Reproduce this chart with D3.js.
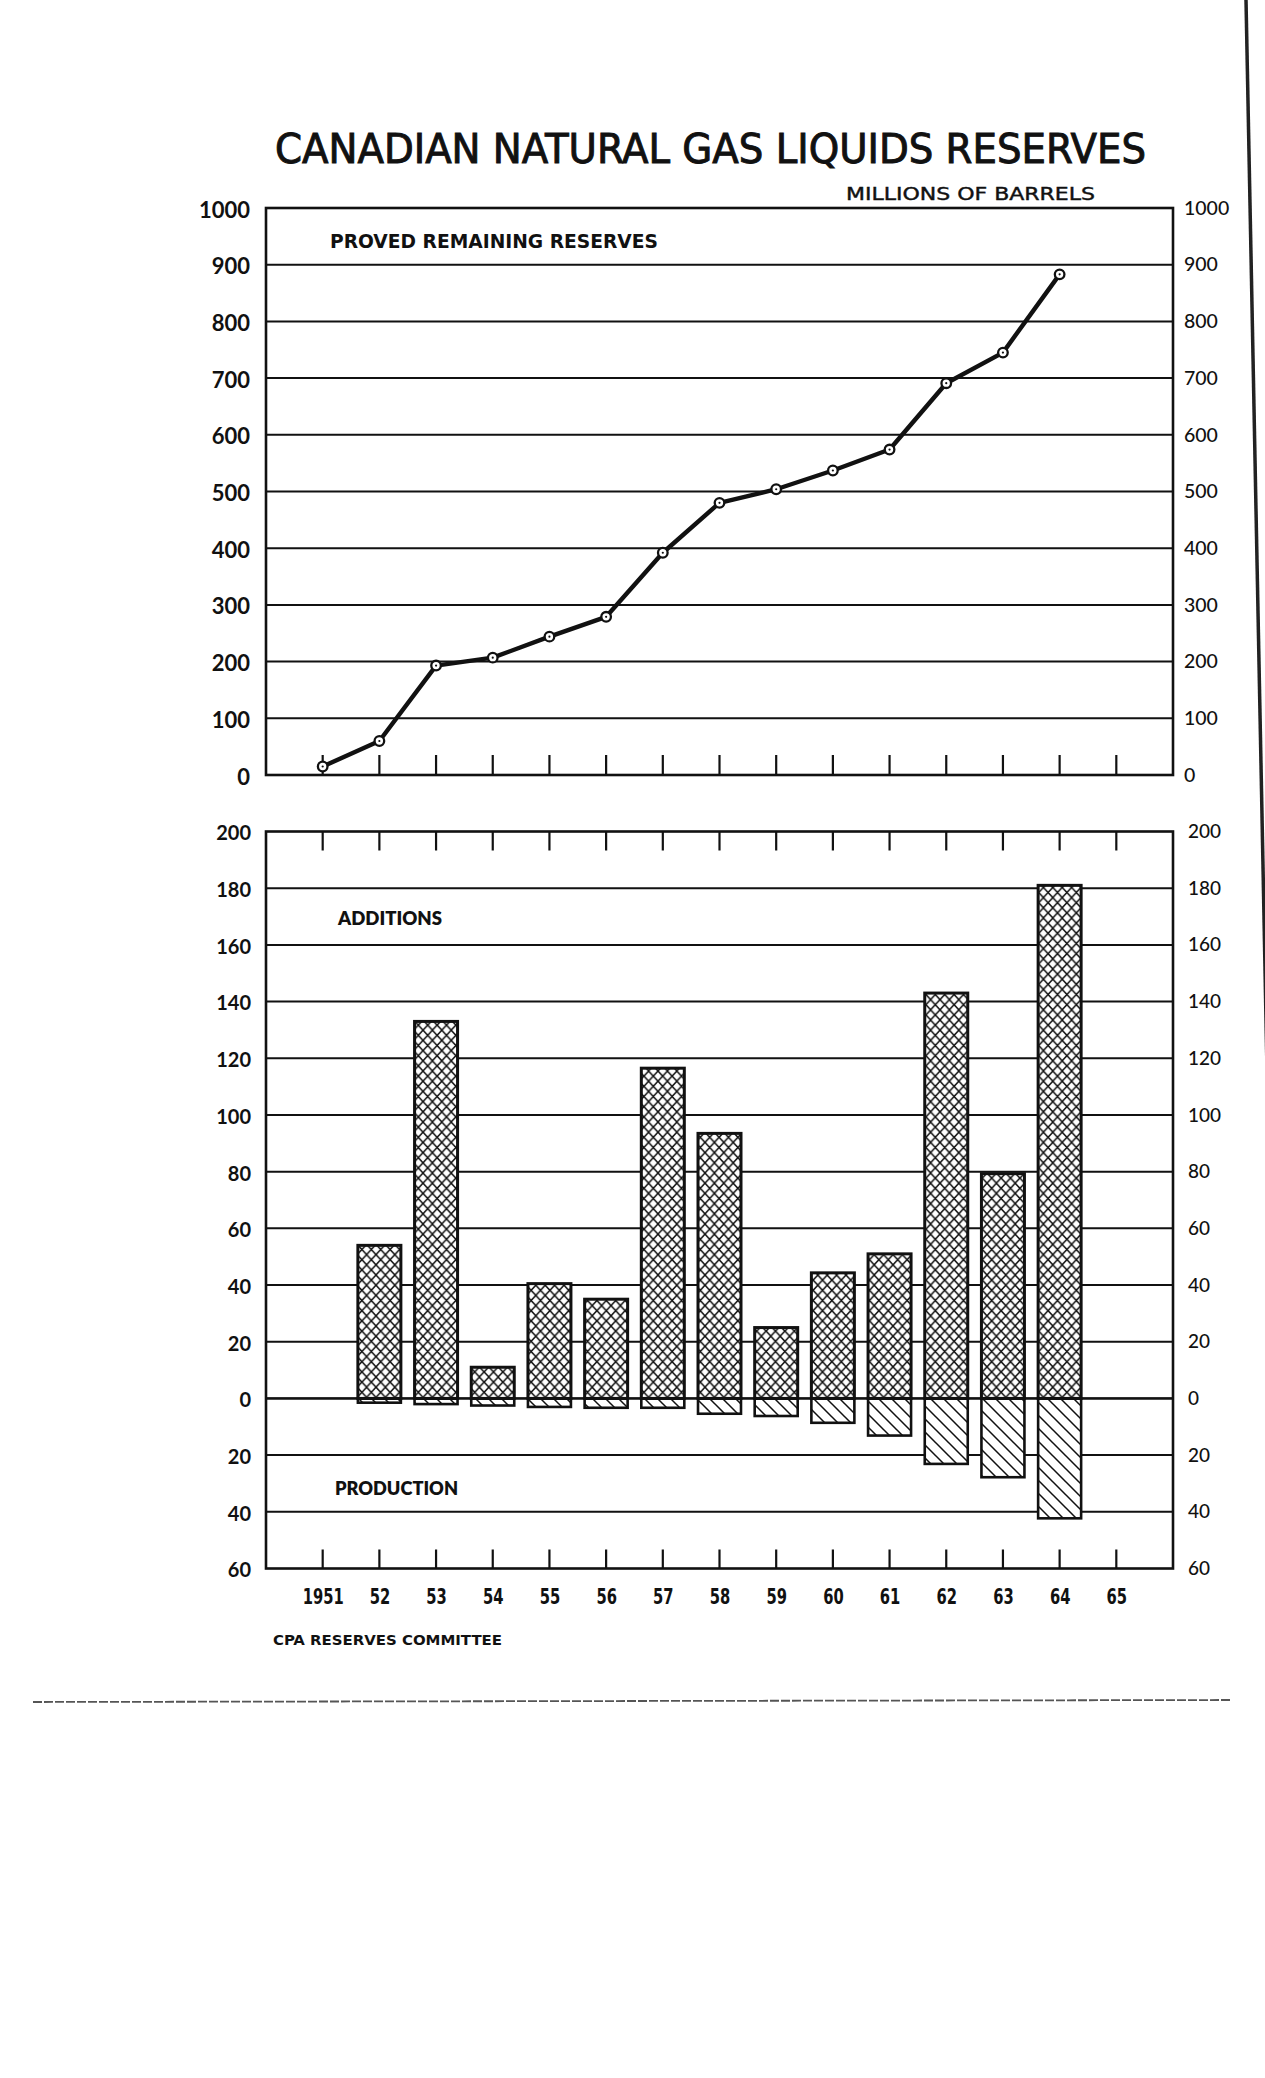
<!DOCTYPE html>
<html><head><meta charset="utf-8">
<script src="https://cdn.jsdelivr.net/npm/d3@7"></script>
<style>
html,body{margin:0;padding:0;background:#fff}
svg{display:block}
</style>
</head><body>
<script>
// ---------- DATA ----------
const reserveYears = [1951,1952,1953,1954,1955,1956,1957,1958,1959,1960,1961,1962,1963,1964];
const reserves     = [15,60,193,207,244,279,392,480,504,537,574,691,745,883];

const flowYears  = [1952,1953,1954,1955,1956,1957,1958,1959,1960,1961,1962,1963,1964];
const additions  = [54,133,11,40.5,35,116.5,93.5,25,44.3,51,143,79.3,181];
const production = [1.5,2,2.5,3,3.3,3.3,5.4,6.2,8.6,13.1,23.1,27.8,42.3];

const tickYears  = [1951,1952,1953,1954,1955,1956,1957,1958,1959,1960,1961,1962,1963,1964,1965];
const tickLabels = ["1951","52","53","54","55","56","57","58","59","60","61","62","63","64","65"];
const reserveTicks = [0,100,200,300,400,500,600,700,800,900,1000];
const flowTicks    = [-60,-40,-20,0,20,40,60,80,100,120,140,160,180,200];

const title = "CANADIAN  NATURAL  GAS  LIQUIDS  RESERVES";
const unitLabel = "MILLIONS  OF  BARRELS";
const topLabel = "PROVED  REMAINING  RESERVES";
const addLabel = "ADDITIONS";
const prodLabel = "PRODUCTION";
const sourceLabel = "CPA  RESERVES  COMMITTEE";

// ---------- SETUP ----------
const W = 1265, H = 2078;
const ink = "#111";
const condensed = "'Liberation Sans Narrow','DejaVu Sans Condensed','Roboto Condensed','DejaVu Sans',sans-serif";
const geo = "Lato,'Noto Sans','DejaVu Sans',sans-serif";

const svg = d3.select("body").append("svg").attr("width", W).attr("height", H);
svg.append("rect").attr("width", W).attr("height", H).attr("fill", "#fff");

const defs = svg.append("defs");
const cw = 9.4, ch = 10.2;
const cross = defs.append("pattern").attr("id","cross").attr("patternUnits","userSpaceOnUse")
  .attr("width",cw).attr("height",ch);
cross.append("rect").attr("width",cw).attr("height",ch).attr("fill","#fff");
cross.append("path").attr("d",`M${-cw*0.1},${-ch*0.1} L${cw*1.1},${ch*1.1} M${cw*1.1},${-ch*0.1} L${-cw*0.1},${ch*1.1}`)
  .attr("stroke",ink).attr("stroke-width",1.45).attr("fill","none");
const hatch = defs.append("pattern").attr("id","hatch").attr("patternUnits","userSpaceOnUse")
  .attr("width",13).attr("height",13);
hatch.append("rect").attr("width",13).attr("height",13).attr("fill","#fff");
hatch.append("path").attr("d","M-2,-2 L15,15 M-2,11 L2,15 M11,-2 L15,2")
  .attr("stroke",ink).attr("stroke-width",1.5).attr("fill","none");

// scales
const x = d3.scaleLinear().domain([1950,1966]).range([266,1173]);
const yTop = d3.scaleLinear().domain([0,1000]).range([775,208]);
const yBot = d3.scaleLinear().domain([-60,200]).range([1568.5,831.5]);

// ---------- TITLES ----------
svg.append("text").text(title)
  .attr("x",275).attr("y",163).attr("textLength",871).attr("lengthAdjust","spacingAndGlyphs")
  .attr("font-family",condensed).attr("font-size",41).attr("fill",ink)
  .attr("stroke",ink).attr("stroke-width",0.9);
svg.append("text").text(unitLabel)
  .attr("x",846).attr("y",200).attr("textLength",249).attr("lengthAdjust","spacingAndGlyphs")
  .attr("font-family",condensed).attr("font-size",18).attr("fill",ink)
  .attr("stroke",ink).attr("stroke-width",0.4);

// ---------- TOP PANEL ----------
const topG = svg.append("g");
topG.selectAll("line.grid").data(reserveTicks.filter(d=>d>0 && d<1000)).join("line")
  .attr("x1",x(1950)).attr("x2",x(1966)).attr("y1",d=>yTop(d)).attr("y2",d=>yTop(d))
  .attr("stroke",ink).attr("stroke-width",2);
topG.append("rect").attr("x",x(1950)).attr("y",yTop(1000))
  .attr("width",x(1966)-x(1950)).attr("height",yTop(0)-yTop(1000))
  .attr("fill","none").attr("stroke",ink).attr("stroke-width",2.6);
topG.selectAll("line.tk").data(tickYears).join("line")
  .attr("x1",d=>x(d)).attr("x2",d=>x(d)).attr("y1",yTop(0)).attr("y2",yTop(0)-20)
  .attr("stroke",ink).attr("stroke-width",2.2);
topG.append("text").text(topLabel)
  .attr("x",330).attr("y",248).attr("textLength",328).attr("lengthAdjust","spacingAndGlyphs")
  .attr("font-family",condensed).attr("font-weight",600).attr("font-size",20).attr("fill",ink);

const line = d3.line().x((d,i)=>x(reserveYears[i])).y(d=>yTop(d));
topG.append("path").datum(reserves).attr("d",line).attr("fill","none")
  .attr("stroke",ink).attr("stroke-width",4.4).attr("stroke-linejoin","round");
topG.selectAll("circle.pt").data(reserves).join("circle")
  .attr("cx",(d,i)=>x(reserveYears[i])).attr("cy",d=>yTop(d)).attr("r",4.8)
  .attr("fill","#fff").attr("stroke",ink).attr("stroke-width",2.3);
topG.selectAll("circle.dot").data(reserves).join("circle")
  .attr("cx",(d,i)=>x(reserveYears[i])).attr("cy",d=>yTop(d)).attr("r",1.1).attr("fill",ink);

// axes labels top
const fmt = d3.format("d");
const axTL = d3.axisLeft(yTop).tickValues(reserveTicks).tickSize(0).tickPadding(0).tickFormat(fmt);
const gTL = svg.append("g").attr("transform","translate(250,2)").call(axTL);
gTL.select(".domain").remove();
gTL.selectAll("text").attr("font-family",geo).attr("font-weight",700).attr("font-size",22).attr("fill",ink);
const axTR = d3.axisRight(yTop).tickValues(reserveTicks).tickSize(0).tickPadding(0).tickFormat(fmt);
const gTR = svg.append("g").attr("transform","translate(1184,0)").call(axTR);
gTR.select(".domain").remove();
gTR.selectAll("text").attr("font-family",geo).attr("font-weight",500).attr("font-size",19.5).attr("fill",ink);

// ---------- BOTTOM PANEL ----------
const botG = svg.append("g");
botG.selectAll("line.grid").data(flowTicks.filter(d=>d>-60 && d<200)).join("line")
  .attr("x1",x(1950)).attr("x2",x(1966)).attr("y1",d=>yBot(d)).attr("y2",d=>yBot(d))
  .attr("stroke",ink).attr("stroke-width",2);
botG.selectAll("line.tkt").data(tickYears).join("line")
  .attr("x1",d=>x(d)).attr("x2",d=>x(d)).attr("y1",yBot(200)).attr("y2",yBot(200)+19)
  .attr("stroke",ink).attr("stroke-width",2.2);
botG.selectAll("line.tkb").data(tickYears).join("line")
  .attr("x1",d=>x(d)).attr("x2",d=>x(d)).attr("y1",yBot(-60)).attr("y2",yBot(-60)-19)
  .attr("stroke",ink).attr("stroke-width",2.2);

const bw = 43;
botG.selectAll("rect.prod").data(production).join("rect")
  .attr("x",(d,i)=>x(flowYears[i])-bw/2).attr("width",bw)
  .attr("y",yBot(0)).attr("height",d=>yBot(-d)-yBot(0))
  .attr("fill","url(#hatch)").attr("stroke",ink).attr("stroke-width",2.6);
botG.selectAll("rect.add").data(additions).join("rect")
  .attr("x",(d,i)=>x(flowYears[i])-bw/2).attr("width",bw)
  .attr("y",d=>yBot(d)).attr("height",d=>yBot(0)-yBot(d))
  .attr("fill","url(#cross)").attr("stroke",ink).attr("stroke-width",3);
botG.append("line").attr("x1",x(1950)).attr("x2",x(1966)).attr("y1",yBot(0)).attr("y2",yBot(0))
  .attr("stroke",ink).attr("stroke-width",2.4);
botG.append("rect").attr("x",x(1950)).attr("y",yBot(200))
  .attr("width",x(1966)-x(1950)).attr("height",yBot(-60)-yBot(200))
  .attr("fill","none").attr("stroke",ink).attr("stroke-width",2.6);

botG.append("text").text(addLabel)
  .attr("x",338).attr("y",925).attr("textLength",104).attr("lengthAdjust","spacingAndGlyphs")
  .attr("font-family",geo).attr("font-weight",800).attr("font-size",19).attr("fill",ink);
botG.append("text").text(prodLabel)
  .attr("x",335).attr("y",1495).attr("textLength",123).attr("lengthAdjust","spacingAndGlyphs")
  .attr("font-family",geo).attr("font-weight",800).attr("font-size",19).attr("fill",ink);

const axBL = d3.axisLeft(yBot).tickValues(flowTicks).tickSize(0).tickPadding(0).tickFormat(d=>Math.abs(d));
const gBL = svg.append("g").attr("transform","translate(251,2)").call(axBL);
gBL.select(".domain").remove();
gBL.selectAll("text").attr("font-family",geo).attr("font-weight",700).attr("font-size",20).attr("fill",ink);
const axBR = d3.axisRight(yBot).tickValues(flowTicks).tickSize(0).tickPadding(0).tickFormat(d=>Math.abs(d));
const gBR = svg.append("g").attr("transform","translate(1188,0)").call(axBR);
gBR.select(".domain").remove();
gBR.selectAll("text").attr("font-family",geo).attr("font-weight",500).attr("font-size",19).attr("fill",ink);

// year labels (condensed via horizontal scale)
const axX = d3.axisBottom(x).tickValues(tickYears).tickSize(0).tickPadding(0)
  .tickFormat((d,i)=>tickLabels[i]);
const gX = svg.append("g").attr("transform","translate(0,1604)").call(axX);
gX.select(".domain").remove();
gX.selectAll("text").attr("dy",null).attr("y",0).attr("transform","scale(0.78,1)")
  .attr("font-family",condensed).attr("font-weight",600).attr("font-size",21).attr("fill",ink);

svg.append("text").text(sourceLabel)
  .attr("x",273).attr("y",1645).attr("textLength",229).attr("lengthAdjust","spacingAndGlyphs")
  .attr("font-family",condensed).attr("font-weight","bold").attr("font-size",14).attr("fill",ink);

// ---------- scan page edges (decoration) ----------
svg.append("line").attr("x1",1246).attr("y1",0).attr("x2",1267).attr("y2",1070)
  .attr("stroke","#222").attr("stroke-width",3.5);
svg.append("line").attr("x1",33).attr("y1",1702).attr("x2",1232).attr("y2",1700)
  .attr("stroke","#555").attr("stroke-width",1.8).attr("stroke-dasharray","9,2");
</script>
</body></html>
